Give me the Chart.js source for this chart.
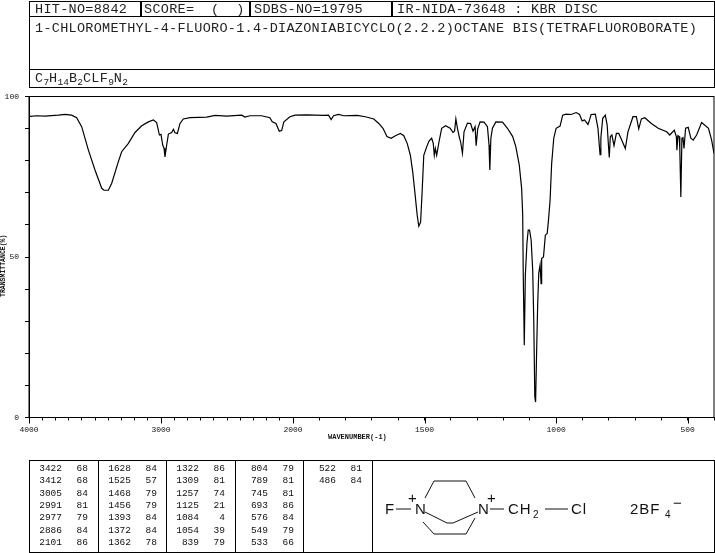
<!DOCTYPE html>
<html>
<head>
<meta charset="utf-8">
<title>IR spectrum</title>
<script src="https://cdn.jsdelivr.net/npm/chart.js@4/dist/chart.umd.min.js"></script>
<style>
    html, body { margin: 0; padding: 0; background: #fff; }
    #page { position: relative; width: 715px; height: 553px; overflow: hidden; font-family: "Liberation Mono", monospace; color: #111; }
    #page canvas { position: absolute; left: 0; top: 0; }
    .box { position: absolute; border: 1px solid #000; box-sizing: border-box; }
    .head { position: absolute; font-size: 13.5px; letter-spacing: 0.28px; line-height: 14px; white-space: pre; color: #222; }
    .peak { position: absolute; font-size: 9.5px; line-height: 12px; text-align: right; white-space: pre; }
    .axis-title { position: absolute; font-size: 7px; font-weight: bold; line-height: 8px; white-space: pre; }
    sub { font-size: 9.5px; line-height: 0; vertical-align: -3px; letter-spacing: 0; }
    svg { position: absolute; left: 0; top: 0; }
    svg text { font-family: "Liberation Sans", sans-serif; font-size: 15px; letter-spacing: 1px; fill: #111; }
</style>
</head>
<body>
<div id="page">
    <canvas id="irChart" width="715" height="553"></canvas>

    <!-- cabecalho -->
    <div class="box" style="left:29px;top:1px;width:686px;height:16px"></div>
    <div class="box" style="left:29px;top:16px;width:686px;height:54px"></div>
    <div class="box" style="left:29px;top:69px;width:686px;height:19px"></div>
    <div class="box" style="left:140px;top:1px;width:1px;height:16px"></div>
    <div class="box" style="left:249px;top:1px;width:1px;height:16px"></div>
    <div class="box" style="left:391px;top:1px;width:1px;height:16px"></div>
    <div class="head" style="left:35px;top:3px">HIT-NO=8842</div>
    <div class="head" style="left:144px;top:3px">SCORE=  (  )</div>
    <div class="head" style="left:254px;top:3px">SDBS-NO=19795</div>
    <div class="head" style="left:397px;top:3px">IR-NIDA-73648 : KBR DISC</div>
    <div class="head" style="left:35px;top:22px">1-CHLOROMETHYL-4-FLUORO-1.4-DIAZONIABICYCLO(2.2.2)OCTANE BIS(TETRAFLUOROBORATE)</div>
    <div class="head" style="left:35px;top:72px">C<sub>7</sub>H<sub>14</sub>B<sub>2</sub>CLF<sub>9</sub>N<sub>2</sub></div>

    <div class="axis-title" style="left:328px;top:433px">WAVENUMBER(-1)</div>
    <div class="axis-title" style="left:-27px;top:262px;width:62px;text-align:center;font-size:6.5px;transform:rotate(-90deg)">TRANSMITTANCE(%)</div>

    <!-- tabela de picos -->
    <div id="peakTable"></div>

    <!-- estrutura -->
    <div class="box" style="left:372px;top:460px;width:343px;height:93px"></div>
    <svg width="715" height="553" fill="none" stroke="#111" stroke-width="1">
        <path d="M396 509H411M425 498L434 481H466L475 498M423 522L434 534H466L475 518M425 512L447 523H453L478 512M490 509H504M545 509H568"/>
        <text x="385" y="514" stroke="none">F</text>
        <text x="408" y="503" stroke="none">+</text>
        <text x="415" y="514" stroke="none">N</text>
        <text x="478" y="514" stroke="none">N</text>
        <text x="487" y="503" stroke="none">+</text>
        <text x="508" y="514" stroke="none">CH</text>
        <text x="533" y="518" stroke="none" style="font-size:10px">2</text>
        <text x="571" y="514" stroke="none">Cl</text>
        <text x="630" y="514" stroke="none">2BF</text>
        <text x="665" y="518" stroke="none" style="font-size:10px">4</text>
        <text x="673" y="508" stroke="none">−</text>
    </svg>
</div>

<script>
// espectro (numero de onda, transmitancia %)
const waveNumbers = [
    4000, 3992, 3942, 3879, 3778, 3727, 3677, 3639, 3601, 3550, 3500, 3449, 3432, 3399, 3374, 3323, 3298, 3247, 3197, 3146,
    3096, 3058, 3033, 3012, 3000, 2987, 2977, 2970, 2957, 2944, 2919, 2906, 2894, 2876, 2856, 2831, 2780, 2654, 2591, 2503,
    2389, 2364, 2326, 2238, 2175, 2157, 2129, 2104, 2086, 2069, 2023, 1992, 1948, 1884, 1865, 1855, 1846, 1827, 1808, 1757,
    1725, 1693, 1674, 1658, 1643, 1627, 1611, 1592, 1579, 1566, 1554, 1545, 1537, 1528, 1522, 1515, 1509, 1503, 1492, 1483,
    1473, 1467, 1463, 1459, 1454, 1445, 1435, 1420, 1403, 1392, 1386, 1381, 1375, 1367, 1363, 1356, 1350, 1337, 1325, 1316,
    1308, 1304, 1298, 1289, 1274, 1261, 1255, 1252, 1248, 1242, 1229, 1204, 1185, 1165, 1153, 1140, 1131, 1127, 1125, 1121,
    1117, 1111, 1106, 1101, 1095, 1089, 1085, 1081, 1078, 1074, 1070, 1066, 1061, 1057, 1055, 1048, 1041, 1034, 1029, 1023,
    1017, 1009, 1000, 985, 975, 962, 943, 924, 911, 901, 892, 879, 873, 867, 851, 841, 837, 833, 830, 823,
    813, 806, 802, 798, 794, 788, 780, 771, 762, 752, 737, 727, 708, 695, 686, 676, 663, 638, 612, 580,
    568, 551, 543, 541, 537, 532, 530, 526, 522, 518, 514, 508, 498, 488, 479, 466, 447, 421, 409, 400
];
const transmittance = [
    93.7, 93.8, 94.0, 93.9, 94.2, 94.4, 94.2, 93.4, 90.6, 83.3, 77.1, 71.4, 70.8, 70.8, 72.9, 79.7, 82.8, 85.4, 88.8, 90.9,
    92.1, 92.7, 91.9, 88.0, 88.2, 84.9, 83.9, 81.2, 84.9, 88.3, 88.8, 89.8, 88.7, 88.5, 91.6, 93.0, 93.4, 93.6, 94.1, 93.9,
    94.2, 93.6, 94.0, 94.0, 93.4, 92.1, 91.6, 89.2, 89.4, 92.1, 93.7, 94.2, 94.3, 94.1, 94.2, 92.8, 94.0, 94.4, 94.0, 94.1,
    93.7, 93.0, 91.6, 90.1, 87.5, 87.0, 87.8, 88.5, 87.8, 85.4, 81.7, 76.5, 70.3, 63.0, 59.6, 60.9, 70.8, 81.7, 84.3, 86.1,
    87.0, 85.4, 81.7, 83.8, 81.7, 85.9, 90.1, 90.9, 90.1, 88.8, 89.2, 93.0, 90.1, 87.0, 85.9, 82.3, 89.0, 91.7, 91.6, 89.2,
    90.6, 84.7, 89.9, 92.1, 92.0, 90.6, 84.9, 77.1, 87.0, 90.1, 92.1, 92.0, 90.1, 87.5, 84.3, 78.6, 71.3, 63.0, 44.9, 22.5,
    44.3, 54.2, 58.4, 58.4, 55.3, 45.9, 30.3, 6.4, 4.8, 20.9, 35.5, 44.9, 47.5, 41.7, 49.5, 50.0, 56.8, 57.3, 61.5, 67.7,
    79.1, 87.0, 90.1, 90.8, 94.2, 94.5, 94.4, 95.0, 94.4, 92.4, 92.7, 91.3, 92.7, 94.4, 94.5, 90.1, 85.9, 81.9, 87.0, 93.2,
    94.2, 91.1, 85.9, 81.0, 87.5, 88.0, 84.7, 88.5, 88.5, 86.7, 83.8, 89.0, 93.7, 93.7, 89.9, 93.0, 93.4, 91.6, 90.1, 89.0,
    88.0, 89.5, 87.5, 83.3, 87.8, 87.5, 83.8, 68.7, 87.0, 87.2, 83.8, 90.1, 90.4, 87.0, 86.4, 88.0, 91.9, 90.1, 86.4, 82.3
];

// ticks do eixo
const xTicks = [4000, 3900, 3800, 3700, 3600, 3500, 3400, 3300, 3200, 3100, 3000, 2900, 2800, 2700, 2600, 2500, 2400, 2300, 2200, 2100,
    2000, 1900, 1800, 1700, 1600, 1500, 1400, 1300, 1200, 1100, 1000, 900, 800, 700, 600, 500, 400];
const xLabels = [4000, 3000, 2000, 1500, 1000, 500];
const yLabels = [0, 50, 100];

// lista de picos, colunas da tabela de baixo
const peakWaves = [
    [3422, 3412, 3005, 2991, 2977, 2886, 2101],
    [1628, 1525, 1468, 1456, 1393, 1372, 1362],
    [1322, 1309, 1257, 1125, 1084, 1054, 839],
    [804, 789, 745, 693, 576, 549, 533],
    [522, 486]
];
const peakValues = [
    [68, 68, 84, 81, 79, 84, 86],
    [84, 57, 79, 79, 84, 84, 78],
    [86, 81, 74, 21, 4, 39, 79],
    [79, 81, 81, 86, 84, 79, 66],
    [81, 84]
];

// monta a tabela de picos
const peakTable = document.getElementById('peakTable');
const columnEdges = [29, 98, 166, 235, 303, 372];
columnEdges.slice(0, 5).forEach((left, c) => {
    const box = document.createElement('div');
    box.className = 'box';
    box.style.cssText = `left:${left}px;top:460px;width:${columnEdges[c + 1] - left + 1}px;height:93px`;
    peakTable.appendChild(box);
    peakWaves[c].forEach((wave, r) => {
        const top = 463 + r * 12.3;
        const waveEl = document.createElement('div');
        waveEl.className = 'peak';
        waveEl.textContent = wave;
        waveEl.style.cssText = `left:${left + 5}px;width:28px;top:${top}px`;
        peakTable.appendChild(waveEl);
        const valueEl = document.createElement('div');
        valueEl.className = 'peak';
        valueEl.textContent = peakValues[c][r];
        valueEl.style.cssText = `left:${left + 44}px;width:15px;top:${top}px`;
        peakTable.appendChild(valueEl);
    });
});

/**
 * Eixo do espectro: a escala muda em 2000 cm-1 (a parte baixa e o dobro mais larga).
 */
class SpectrumScale extends Chart.LinearScale {
    getPixelForValue(value) {
        const split = 264 / 685;
        const f = value >= 2000
            ? (4000 - value) / 2000 * split
            : split + (2000 - value) / 1600 * (1 - split);
        return this.left + f * this.width;
    }
}
SpectrumScale.id = 'spectrum';
SpectrumScale.defaults = Chart.LinearScale.defaults;
Chart.register(SpectrumScale);

// moldura em volta da area do grafico e ticks maiores nos rotulos do eixo x
const framePlugin = {
    id: 'frame',
    afterDraw(chart) {
        const { ctx, chartArea: a, scales } = chart;
        ctx.save();
        ctx.strokeStyle = '#000';
        ctx.lineWidth = 1;
        ctx.strokeRect(a.left, a.top, a.right - a.left, a.bottom - a.top);
        xLabels.forEach(v => {
            const px = Math.round(scales.x.getPixelForValue(v)) + 0.5;
            ctx.beginPath();
            ctx.moveTo(px, a.bottom);
            ctx.lineTo(px, a.bottom + 6);
            ctx.stroke();
        });
        ctx.restore();
    }
};

new Chart(document.getElementById('irChart').getContext('2d'), {
    type: 'line',
    data: {
        datasets: [{
            data: waveNumbers.map((w, i) => ({ x: w, y: transmittance[i] })),
            borderColor: '#000',
            borderWidth: 1.2,
            pointRadius: 0,
            tension: 0,
            fill: false
        }]
    },
    options: {
        responsive: false,
        animation: false,
        layout: { padding: { top: 96.5, right: 1, left: 0, bottom: 0 } },
        plugins: { legend: { display: false }, tooltip: { enabled: false } },
        scales: {
            x: {
                type: 'spectrum',
                min: 400,
                max: 4000,
                afterBuildTicks: axis => { axis.ticks = xTicks.map(v => ({ value: v })); },
                afterFit: axis => {
                    axis.height = 135.5;
                    axis.paddingLeft = 0;
                    axis.paddingRight = 0;
                },
                grid: { drawOnChartArea: false, tickLength: 3, color: '#000' },
                border: { color: '#000' },
                ticks: {
                    autoSkip: false,
                    maxRotation: 0,
                    padding: 4.5,
                    color: '#111',
                    font: { family: 'Liberation Mono', size: 8 },
                    callback: v => xLabels.includes(v) ? String(v) : ''
                }
            },
            y: {
                min: 0,
                max: 100,
                afterFit: axis => { axis.width = 29; },
                grid: { drawOnChartArea: false, tickLength: 4, color: '#000' },
                border: { color: '#000' },
                ticks: {
                    stepSize: 10,
                    autoSkip: false,
                    padding: 6,
                    color: '#111',
                    font: { family: 'Liberation Mono', size: 8 },
                    callback: v => yLabels.includes(v) ? String(v) : ''
                }
            }
        }
    },
    plugins: [framePlugin]
});
</script>
</body>
</html>
